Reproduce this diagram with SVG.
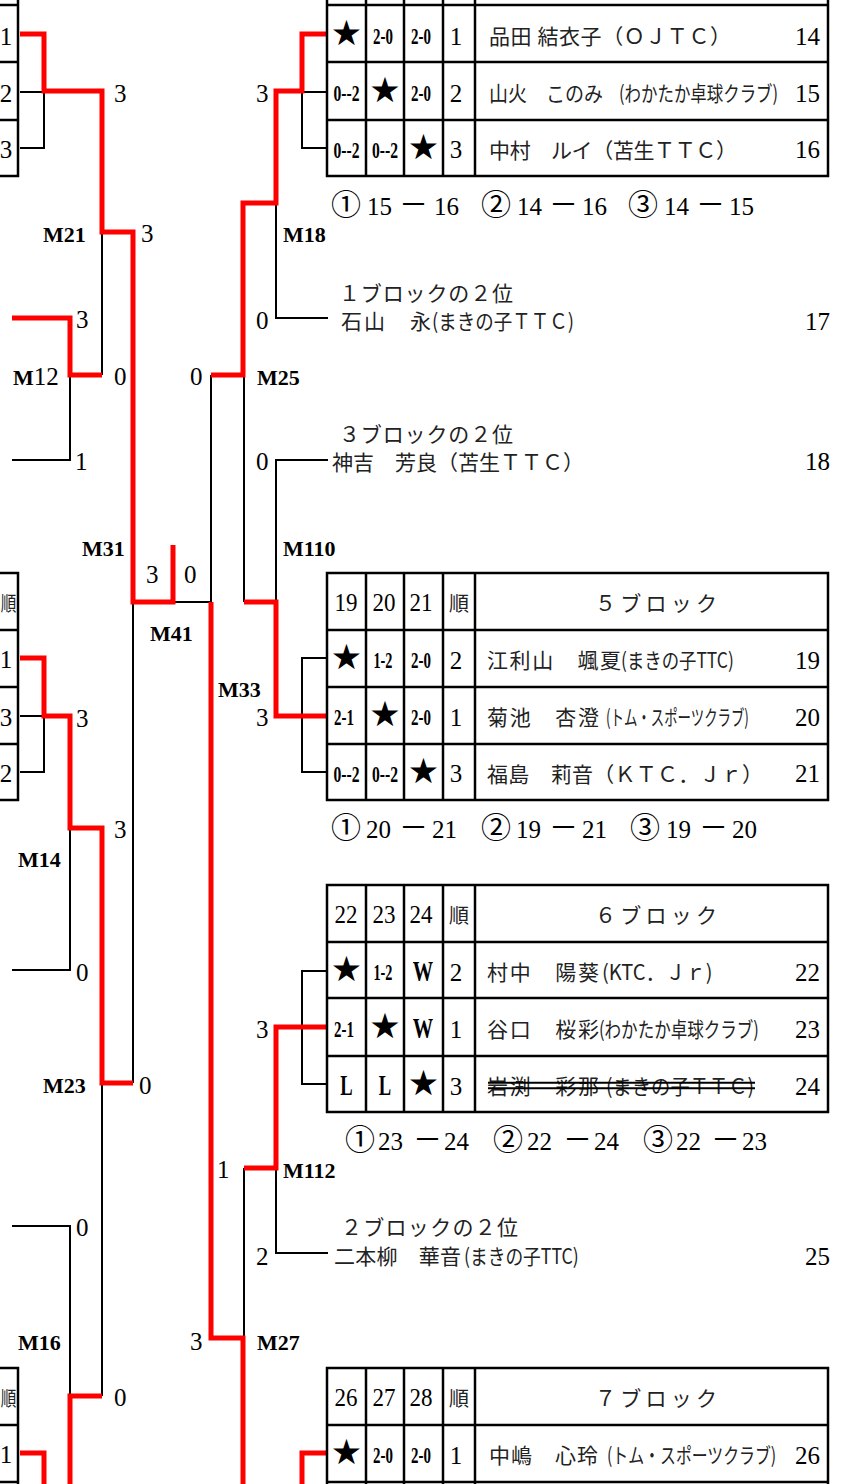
<svg xmlns="http://www.w3.org/2000/svg" width="843" height="1484" viewBox="0 0 843 1484">
<style>
.tb{fill:none;stroke:#000;stroke-width:2.5;stroke-linecap:square}
.bk{fill:none;stroke:#000;stroke-width:2}
.rd{fill:none;stroke:#f00;stroke-width:5;stroke-linejoin:miter}
.n{font-family:"Liberation Serif",serif;font-size:25px;fill:#000}
.m{font-family:"Liberation Serif",serif;font-size:22px;font-weight:bold;fill:#000}
.v{font-family:"Liberation Serif",serif;font-size:23px;font-weight:bold;text-anchor:middle;fill:#000}
.w{font-family:"Liberation Serif",serif;font-size:30px;font-weight:bold;text-anchor:middle;fill:#000}
.s{font-family:"DejaVu Sans",sans-serif;font-size:35px;text-anchor:middle;fill:#000}
.j{font-family:"Noto Sans CJK JP",sans-serif;font-size:21px;fill:#222}
.cj{font-family:"Noto Sans CJK JP",sans-serif}
.c{text-anchor:middle}
.e{text-anchor:end}
.h{font-family:"Noto Sans CJK JP",sans-serif;font-size:20px;text-anchor:middle;fill:#222}
</style>
<rect width="843" height="1484" fill="#fff"/>

<g id="connectors">
<path class="bk" d="M20,92H44V148H20 M102,232V375 M70,375V460H12 M133,602V1083 M173,602H211V375 M244,375V602 M276,203V318H328 M328,92H302V148H328 M328,460H276V602 M328,658H302V772H328 M328,971H302V1084H328 M328,1253H276V1168 M244,1168V1338 M20,716H44V772H20 M70,828V970H12 M102,1083V1396 M12,1226H70V1396"/>
<path class="rd" d="M20,34H44V91H102V232H133V602H173V545"/>
<path class="rd" d="M12,318H70V375H102"/>
<path class="rd" d="M328,34H302V91H276V203H243V375H211"/>
<path class="rd" d="M328,716H276V602H244"/>
<path class="rd" d="M328,1027H276V1168H244"/>
<path class="rd" d="M328,1453H302V1490"/>
<path class="rd" d="M243,1490V1338H211V602"/>
<path class="rd" d="M20,658H44V716H70V828H102V1083H133"/>
<path class="rd" d="M70,1490V1396H102"/>
<path class="rd" d="M20,1453H44V1490"/>
</g>

<g id="matches">
<text class="m" x="43" y="242">M21</text>
<text class="m" x="283" y="242">M18</text>
<text class="m" x="13" y="385">M<tspan font-weight="normal" font-size="25">12</tspan></text>
<text class="m" x="257" y="385">M25</text>
<text class="m" x="82" y="556">M31</text>
<text class="m" x="283" y="556">M110</text>
<text class="m" x="150" y="641">M41</text>
<text class="m" x="218" y="697">M33</text>
<text class="m" x="18" y="867">M14</text>
<text class="m" x="43" y="1093">M23</text>
<text class="m" x="283" y="1178">M112</text>
<text class="m" x="18" y="1350">M16</text>
<text class="m" x="257" y="1350">M27</text>
<text class="n" x="114" y="102">3</text>
<text class="n" x="114" y="385">0</text>
<text class="n" x="76" y="328">3</text>
<text class="n" x="75" y="470">1</text>
<text class="n" x="141" y="242">3</text>
<text class="n" x="139" y="1094">0</text>
<text class="n" x="146" y="583">3</text>
<text class="n" x="184" y="583">0</text>
<text class="n" x="190" y="385">0</text>
<text class="n" x="190" y="1350">3</text>
<text class="n" x="217" y="1178">1</text>
<text class="n" x="256" y="102">3</text>
<text class="n" x="256" y="329">0</text>
<text class="n" x="256" y="470">0</text>
<text class="n" x="256" y="726">3</text>
<text class="n" x="256" y="1038">3</text>
<text class="n" x="256" y="1265">2</text>
<text class="n" x="114" y="1406">0</text>
<text class="n" x="76" y="1236">0</text>
<text class="n" x="76" y="981">0</text>
<text class="n" x="76" y="727">3</text>
<text class="n" x="114" y="838">3</text>
</g>

<g id="left-table-top">
<path class="tb" d="M18,0V176 M0,5H18 M0,62H18 M0,120H18 M0,176H18"/>
<text class="n c" x="6" y="45">1</text>
<text class="n c" x="6" y="102">2</text>
<text class="n c" x="6" y="158">3</text>
</g>
<g id="left-table-mid">
<path class="tb" d="M18,573V800 M0,573H18 M0,630H18 M0,687H18 M0,744H18 M0,800H18"/>
<text class="h" transform="translate(8.5,611) scale(0.78,1)">順</text>
<text class="n c" x="6" y="668">1</text>
<text class="n c" x="6" y="726">3</text>
<text class="n c" x="6" y="782">2</text>
</g>
<g id="left-table-bottom">
<path class="tb" d="M18,1368V1490 M0,1368H18 M0,1425H18 M0,1482H18"/>
<text class="h" transform="translate(8.5,1406) scale(0.78,1)">順</text>
<text class="n c" x="6" y="1463">1</text>
</g>

<g id="block4">
<path class="tb" d="M327,0V176 M366,0V176 M404,0V176 M443,0V176 M475,0V176 M828,0V176 M327,5H828 M327,62H828 M327,120H828 M327,176H828"/>
<text class="s" x="346.5" y="45">★</text>
<text class="v" transform="translate(383,44) scale(0.65,1)">2-0</text>
<text class="v" transform="translate(421,44) scale(0.65,1)">2-0</text>
<text class="n c" x="456" y="45">1</text>
<text class="j" x="489" y="44" textLength="242" lengthAdjust="spacing">品田 結衣子（ＯＪＴＣ）</text>
<text class="n e" x="820" y="45">14</text>
<text class="v" transform="translate(346.5,101) scale(0.68,1)">0--2</text>
<text class="s" x="385" y="102">★</text>
<text class="v" transform="translate(421,101) scale(0.65,1)">2-0</text>
<text class="n c" x="456" y="102">2</text>
<text class="j" x="489" y="101" textLength="114" lengthAdjust="spacingAndGlyphs">山火　このみ</text>
<text class="j" transform="translate(619,101) scale(0.78,1)" textLength="204" lengthAdjust="spacingAndGlyphs">(わかたか卓球クラブ)</text>
<text class="n e" x="820" y="102">15</text>
<text class="v" transform="translate(346.5,158) scale(0.68,1)">0--2</text>
<text class="v" transform="translate(385,158) scale(0.68,1)">0--2</text>
<text class="s" x="423.5" y="159">★</text>
<text class="n c" x="456" y="158">3</text>
<text class="j" x="489" y="158" textLength="248" lengthAdjust="spacing">中村　ルイ（苫生ＴＴＣ）</text>
<text class="n e" x="820" y="158">16</text>
<text class="n" y="215"><tspan class="cj" x="331" font-size="30">①</tspan><tspan x="367">15</tspan><tspan class="cj" x="399" font-size="29">－</tspan><tspan x="434">16</tspan><tspan class="cj" x="481" font-size="30">②</tspan><tspan x="517">14</tspan><tspan class="cj" x="549" font-size="29">－</tspan><tspan x="582">16</tspan><tspan class="cj" x="628" font-size="30">③</tspan><tspan x="664">14</tspan><tspan class="cj" x="696" font-size="29">－</tspan><tspan x="729">15</tspan></text>
</g>

<g id="seed17">
<text class="j" x="339" y="301" textLength="174" lengthAdjust="spacing">１ブロックの２位</text>
<text class="j" x="341" y="329" textLength="90" lengthAdjust="spacing">石山　永</text>
<text class="j" transform="translate(432,329) scale(0.876,1)" textLength="162" lengthAdjust="spacingAndGlyphs">(まきの子ＴＴＣ)</text>
<text class="n e" x="830" y="330">17</text>
</g>
<g id="seed18">
<text class="j" x="339" y="442" textLength="174" lengthAdjust="spacing">３ブロックの２位</text>
<text class="j" x="332" y="470" textLength="252" lengthAdjust="spacing">神吉　芳良（苫生ＴＴＣ）</text>
<text class="n e" x="830" y="470">18</text>
</g>

<g id="block5">
<path class="tb" d="M327,573V800 M366,573V800 M404,573V800 M443,573V800 M475,573V800 M828,573V800 M327,573H828 M327,630H828 M327,687H828 M327,744H828 M327,800H828"/>
<text class="n c" transform="translate(346,611) scale(0.92,1)">19</text>
<text class="n c" transform="translate(384,611) scale(0.92,1)">20</text>
<text class="n c" transform="translate(421,611) scale(0.92,1)">21</text>
<text class="h" x="459" y="611">順</text>
<text class="j" x="595" y="611" font-size="22" textLength="122" lengthAdjust="spacing">５ブロック</text>
<text class="s" x="346.5" y="669">★</text>
<text class="v" transform="translate(383,668) scale(0.62,1)">1-2</text>
<text class="v" transform="translate(421,668) scale(0.65,1)">2-0</text>
<text class="n c" x="456" y="669">2</text>
<text class="j" x="487" y="668" textLength="134" lengthAdjust="spacing">江利山　颯夏</text>
<text class="j" transform="translate(621,668) scale(0.848,1)" textLength="133" lengthAdjust="spacingAndGlyphs">(まきの子TTC)</text>
<text class="n e" x="820" y="669">19</text>
<text class="v" transform="translate(344,725) scale(0.65,1)">2-1</text>
<text class="s" x="385" y="726">★</text>
<text class="v" transform="translate(421,725) scale(0.65,1)">2-0</text>
<text class="n c" x="456" y="726">1</text>
<text class="j" x="487" y="725" textLength="112" lengthAdjust="spacing">菊池　杏澄</text>
<text class="j" transform="translate(606,725) scale(0.638,1)" textLength="224" lengthAdjust="spacingAndGlyphs">(トム・スポーツクラブ)</text>
<text class="n e" x="820" y="726">20</text>
<text class="v" transform="translate(346.5,782) scale(0.68,1)">0--2</text>
<text class="v" transform="translate(385,782) scale(0.68,1)">0--2</text>
<text class="s" x="423.5" y="783">★</text>
<text class="n c" x="456" y="782">3</text>
<text class="j" x="487" y="782" textLength="276" lengthAdjust="spacing">福島　莉音（ＫＴＣ．Ｊｒ）</text>
<text class="n e" x="820" y="782">21</text>
<text class="n" y="838"><tspan class="cj" x="331" font-size="30">①</tspan><tspan x="366">20</tspan><tspan class="cj" x="399" font-size="29">－</tspan><tspan x="432">21</tspan><tspan class="cj" x="481" font-size="30">②</tspan><tspan x="516">19</tspan><tspan class="cj" x="549" font-size="29">－</tspan><tspan x="582">21</tspan><tspan class="cj" x="630" font-size="30">③</tspan><tspan x="666">19</tspan><tspan class="cj" x="699" font-size="29">－</tspan><tspan x="732">20</tspan></text>
</g>

<g id="block6">
<path class="tb" d="M327,885V1112 M366,885V1112 M404,885V1112 M443,885V1112 M475,885V1112 M828,885V1112 M327,885H828 M327,942H828 M327,998H828 M327,1056H828 M327,1112H828"/>
<text class="n c" transform="translate(346,923) scale(0.92,1)">22</text>
<text class="n c" transform="translate(384,923) scale(0.92,1)">23</text>
<text class="n c" transform="translate(421,923) scale(0.92,1)">24</text>
<text class="h" x="459" y="923">順</text>
<text class="j" x="595" y="923" font-size="22" textLength="122" lengthAdjust="spacing">６ブロック</text>
<text class="s" x="346.5" y="981">★</text>
<text class="v" transform="translate(383,980) scale(0.62,1)">1-2</text>
<text class="w" transform="translate(423,981) scale(0.68,1)">W</text>
<text class="n c" x="456" y="981">2</text>
<text class="j" x="487" y="980" textLength="112" lengthAdjust="spacing">村中　陽葵</text>
<text class="j" transform="translate(602,980) scale(0.952,1)" textLength="116" lengthAdjust="spacingAndGlyphs">(KTC．Ｊｒ)</text>
<text class="n e" x="820" y="981">22</text>
<text class="v" transform="translate(344,1037) scale(0.65,1)">2-1</text>
<text class="s" x="385" y="1038">★</text>
<text class="w" transform="translate(423,1038) scale(0.68,1)">W</text>
<text class="n c" x="456" y="1038">1</text>
<text class="j" x="487" y="1037" textLength="112" lengthAdjust="spacing">谷口　桜彩</text>
<text class="j" transform="translate(599,1037) scale(0.78,1)" textLength="205" lengthAdjust="spacingAndGlyphs">(わかたか卓球クラブ)</text>
<text class="n e" x="820" y="1038">23</text>
<text class="w" transform="translate(346.5,1095) scale(0.62,1)">L</text>
<text class="w" transform="translate(385,1095) scale(0.62,1)">L</text>
<text class="s" x="423.5" y="1095">★</text>
<text class="n c" x="456" y="1095">3</text>
<text class="j" x="487" y="1094" textLength="112" lengthAdjust="spacing">岩渕　彩那</text>
<text class="j" transform="translate(606,1094) scale(0.914,1)" textLength="162" lengthAdjust="spacingAndGlyphs">(まきの子ＴＴＣ)</text>
<path class="bk" d="M488,1082.7H755 M488,1088.3H755" stroke-width="1.6"/>
<text class="n e" x="820" y="1095">24</text>
<text class="n" y="1150"><tspan class="cj" x="345" font-size="30">①</tspan><tspan x="378">23</tspan><tspan class="cj" x="413" font-size="29">－</tspan><tspan x="444">24</tspan><tspan class="cj" x="493" font-size="30">②</tspan><tspan x="527">22</tspan><tspan class="cj" x="563" font-size="29">－</tspan><tspan x="594">24</tspan><tspan class="cj" x="643" font-size="30">③</tspan><tspan x="676">22</tspan><tspan class="cj" x="711" font-size="29">－</tspan><tspan x="742">23</tspan></text>
</g>

<g id="seed25">
<text class="j" x="341" y="1235" textLength="177" lengthAdjust="spacing">２ブロックの２位</text>
<text class="j" x="334" y="1264" textLength="127" lengthAdjust="spacing">二本柳　華音</text>
<text class="j" transform="translate(464,1264) scale(0.857,1)" textLength="134" lengthAdjust="spacingAndGlyphs">(まきの子TTC)</text>
<text class="n e" x="830" y="1265">25</text>
</g>

<g id="block7">
<path class="tb" d="M327,1368V1490 M366,1368V1490 M404,1368V1490 M443,1368V1490 M475,1368V1490 M828,1368V1490 M327,1368H828 M327,1425H828 M327,1482H828"/>
<text class="n c" transform="translate(346,1406) scale(0.92,1)">26</text>
<text class="n c" transform="translate(384,1406) scale(0.92,1)">27</text>
<text class="n c" transform="translate(421,1406) scale(0.92,1)">28</text>
<text class="h" x="459" y="1406">順</text>
<text class="j" x="595" y="1406" font-size="22" textLength="122" lengthAdjust="spacing">７ブロック</text>
<text class="s" x="346.5" y="1464">★</text>
<text class="v" transform="translate(383,1463) scale(0.65,1)">2-0</text>
<text class="v" transform="translate(421,1463) scale(0.65,1)">2-0</text>
<text class="n c" x="456" y="1464">1</text>
<text class="j" x="489" y="1463" textLength="109" lengthAdjust="spacing">中嶋　心玲</text>
<text class="j" transform="translate(607,1463) scale(0.752,1)" textLength="225" lengthAdjust="spacingAndGlyphs">(トム・スポーツクラブ)</text>
<text class="n e" x="820" y="1464">26</text>
</g>
</svg>
